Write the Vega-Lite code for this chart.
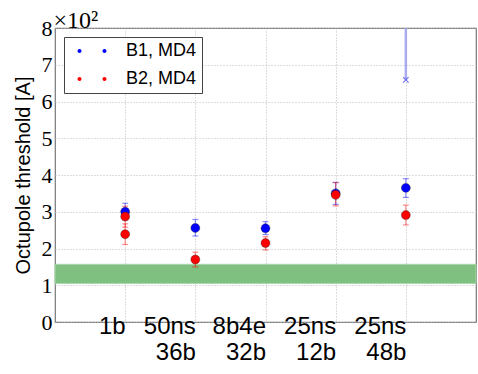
{
  "$schema": "https://vega.github.io/schema/vega-lite/v6.json",
  "width": 421,
  "height": 294,
  "autosize": {"type": "none"},
  "padding": {"left": 55, "top": 28, "right": 2, "bottom": 52},
  "background": "white",
  "config": {
    "view": {"stroke": "#777", "strokeWidth": 1.2},
    "axis": {
      "gridColor": "#bbb",
      "gridDash": [1, 2],
      "gridWidth": 1,
      "domain": false,
      "ticks": false,
      "labelColor": "black",
      "labelOverlap": false
    }
  },
  "datasets": {
    "pts": [
      {"config": "1b", "beam": "B1, MD4", "value": 3.0, "lo": 2.78, "hi": 3.23},
      {"config": "50ns 36b", "beam": "B1, MD4", "value": 2.56, "lo": 2.34, "hi": 2.79},
      {"config": "8b4e 32b", "beam": "B1, MD4", "value": 2.55, "lo": 2.38, "hi": 2.73},
      {"config": "25ns 12b", "beam": "B1, MD4", "value": 3.5, "lo": 3.2, "hi": 3.8},
      {"config": "25ns 48b", "beam": "B1, MD4", "value": 3.65, "lo": 3.39, "hi": 3.9},
      {"config": "1b", "beam": "B2, MD4", "value": 2.87, "lo": 2.58, "hi": 3.15},
      {"config": "1b", "beam": "B2, MD4", "value": 2.39, "lo": 2.11, "hi": 2.67},
      {"config": "50ns 36b", "beam": "B2, MD4", "value": 1.7, "lo": 1.5, "hi": 1.9},
      {"config": "8b4e 32b", "beam": "B2, MD4", "value": 2.15, "lo": 1.96, "hi": 2.32},
      {"config": "25ns 12b", "beam": "B2, MD4", "value": 3.46, "lo": 3.16, "hi": 3.79},
      {"config": "25ns 48b", "beam": "B2, MD4", "value": 2.91, "lo": 2.64, "hi": 3.18}
    ],
    "outlier": [
      {"config": "25ns 48b", "value": 6.59, "hi": 8}
    ],
    "band": [
      {"lo": 1.05, "hi": 1.57}
    ]
  },
  "layer": [
    {
      "data": {"name": "band"},
      "mark": {"type": "rect", "color": "#7fbf7f", "stroke": "#a8d8a8", "strokeWidth": 1},
      "encoding": {
        "y": {
          "field": "lo",
          "type": "quantitative",
          "title": "Octupole threshold [A]",
          "scale": {"domain": [0, 8], "nice": false},
          "axis": {
            "title": "Octupole threshold [A]",
            "titleFont": "Liberation Sans",
            "titleFontSize": 20,
            "titleFontWeight": "normal",
            "titleColor": "black",
            "titlePadding": 8,
            "values": [0, 1, 2, 3, 4, 5, 6, 7, 8],
            "tickCount": 9,
            "labelOverlap": false,
            "labelFont": "Liberation Serif",
            "labelFontSize": 22,
            "labelPadding": 3,
            "grid": true
          }
        },
        "y2": {"field": "hi"}
      }
    },
    {
      "data": {"name": "pts"},
      "transform": [{"filter": "datum.beam === 'B1, MD4'"}],
      "mark": {"type": "errorbar", "ticks": {"size": 6}, "color": "#0000ff", "opacity": 0.45, "thickness": 1.2},
      "encoding": {
        "x": {"field": "config", "type": "nominal", "title": "×10²"},
        "y": {"field": "lo", "type": "quantitative", "title": "Octupole threshold [A]"},
        "y2": {"field": "hi"}
      }
    },
    {
      "data": {"name": "pts"},
      "transform": [{"filter": "datum.beam === 'B2, MD4'"}],
      "mark": {"type": "errorbar", "ticks": {"size": 6}, "color": "#ff0000", "opacity": 0.45, "thickness": 1.2},
      "encoding": {
        "x": {"field": "config", "type": "nominal", "title": "×10²"},
        "y": {"field": "lo", "type": "quantitative", "title": "Octupole threshold [A]"},
        "y2": {"field": "hi"}
      }
    },
    {
      "data": {"name": "outlier"},
      "mark": {"type": "rule", "strokeWidth": 2.5, "color": "#9999ee", "opacity": 0.8},
      "encoding": {
        "x": {"field": "config", "type": "nominal", "title": "×10²"},
        "y": {"field": "value", "type": "quantitative", "title": "Octupole threshold [A]"},
        "y2": {"field": "hi"}
      }
    },
    {
      "data": {"name": "outlier"},
      "mark": {"type": "point", "shape": "M-1,-1L1,1M1,-1L-1,1", "size": 30, "strokeWidth": 1.2, "color": "#5555ee", "opacity": 0.8},
      "encoding": {
        "x": {"field": "config", "type": "nominal", "title": "×10²"},
        "y": {"field": "value", "type": "quantitative", "title": "Octupole threshold [A]"}
      }
    },
    {
      "data": {"name": "pts"},
      "mark": {"type": "circle", "size": 80, "opacity": 1, "stroke": "#222", "strokeWidth": 0.4},
      "encoding": {
        "x": {
          "field": "config",
          "type": "nominal",
          "sort": null,
          "title": "×10²",
          "scale": {"type": "point", "padding": 1, "domain": ["1b", "50ns 36b", "8b4e 32b", "25ns 12b", "25ns 48b"]},
          "axis": {
            "title": "×10²",
            "titleFont": "Liberation Serif",
            "titleFontSize": 24,
            "titleFontWeight": "normal",
            "titleColor": "black",
            "titleAngle": 0,
            "titleAlign": "left",
            "titleBaseline": "alphabetic",
            "titleX": -2,
            "titleY": -295,
            "grid": true,
            "labelExpr": "split(datum.label, ' ')",
            "labelFont": "Liberation Sans",
            "labelFontSize": 24,
            "labelLineHeight": 26,
            "labelPadding": 4,
            "labelAngle": 0,
            "labelOverlap": false
          }
        },
        "y": {"field": "value", "type": "quantitative", "title": "Octupole threshold [A]"},
        "color": {
          "field": "beam",
          "type": "nominal",
          "scale": {"domain": ["B1, MD4", "B2, MD4"], "range": ["#0000ff", "#ff0000"]},
          "legend": {
            "title": null,
            "orient": "none",
            "legendX": 9,
            "legendY": 9,
            "direction": "vertical",
            "fillColor": "white",
            "strokeColor": "#444",
            "padding": 5,
            "rowPadding": 10,
            "symbolType": "M-2,0m-0.32,0a0.32,0.32 0 1,0 0.64,0a0.32,0.32 0 1,0 -0.64,0M2,0m-0.32,0a0.32,0.32 0 1,0 0.64,0a0.32,0.32 0 1,0 -0.64,0",
            "symbolSize": 156,
            "symbolOffset": 14,
            "symbolStrokeWidth": 0,
            "symbolOpacity": 1,
            "labelFont": "Liberation Sans",
            "labelFontSize": 18,
            "labelColor": "black",
            "labelOffset": 25
          }
        }
      }
    }
  ]
}
